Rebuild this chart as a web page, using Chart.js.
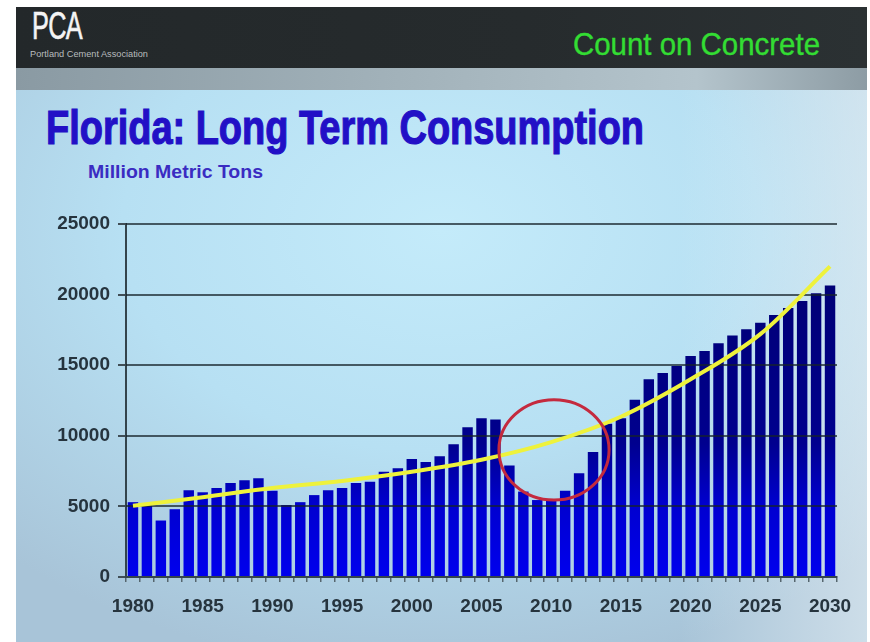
<!DOCTYPE html>
<html>
<head>
<meta charset="utf-8">
<script src="https://cdn.jsdelivr.net/npm/chart.js@4.4.1/dist/chart.umd.min.js"></script>
<style>
  html, body { margin:0; padding:0; background:#ffffff; width:870px; height:642px; overflow:hidden; }
  #slide { position:absolute; left:16px; top:7px; width:851px; height:635px;
    background:
      linear-gradient(to right, rgba(255,255,255,0) 78%, rgba(235,242,246,0.55) 100%),
      radial-gradient(ellipse 75% 70% at 50% 35%, #c4ebfa 0%, #b7e0f3 50%, #a8c4d8 100%);
  }
  #header { position:absolute; left:16px; top:7px; width:851px; height:61px;
    background: linear-gradient(to right, #23282a 0%, #262b2d 60%, #2b3133 100%); }
  #strip { position:absolute; left:16px; top:68px; width:851px; height:22px;
    background: linear-gradient(to right, #8a9aa3 0%, #a2b2ba 45%, #b4c4cc 80%, #8d9ca4 100%); }
  .txt { position:absolute; white-space:nowrap; line-height:1; transform-origin:0 0; }
  #pca { left:32px; top:7px; font-family:"Liberation Sans", Arial, sans-serif; font-size:38px; color:#f4f4f4; letter-spacing:-1px; -webkit-text-stroke:0.6px #f4f4f4; }
  #pcaSub { left:30px; top:50px; font-family:"Liberation Sans", Arial, sans-serif; font-size:9px; color:#b8bcbe; }
  #slogan { left:573px; top:28px; font-family:"Liberation Sans", Arial, sans-serif; font-size:32px; color:#33dd33; -webkit-text-stroke:0.4px #33dd33; }
  #title { left:46px; top:104px; font-family:"Liberation Sans", Arial, sans-serif; font-weight:bold; font-size:48px; color:#2210c6; -webkit-text-stroke:1.2px #2210c6; }
  #subtitle { left:88px; top:162px; font-family:"Liberation Sans", Arial, sans-serif; font-weight:bold; font-size:19px; color:#3a2cc2; }
  #c { position:absolute; left:0; top:0; }
</style>
</head>
<body>
<div id="slide"></div>
<div id="header"></div>
<div id="strip"></div>
<div id="pca" class="txt" data-w="50">PCA</div>
<div id="pcaSub" class="txt" data-w="118">Portland Cement Association</div>
<div id="slogan" class="txt" data-w="247">Count on Concrete</div>
<div id="title" class="txt" data-w="598">Florida: Long Term Consumption</div>
<div id="subtitle" class="txt" data-w="175">Million Metric Tons</div>
<canvas id="c" width="870" height="642"></canvas>
<script>
// ---- data ----
const years = ['1980','1981','1982','1983','1984','1985','1986','1987','1988','1989',
  '1990','1991','1992','1993','1994','1995','1996','1997','1998','1999',
  '2000','2001','2002','2003','2004','2005','2006','2007','2008','2009',
  '2010','2011','2012','2013','2014','2015','2016','2017','2018','2019',
  '2020','2021','2022','2023','2024','2025','2026','2027','2028','2029','2030'];

const consumption = [5300,5050,4000,4800,6150,6000,6300,6650,6850,7000,
  6100,5100,5300,5800,6150,6300,6650,6750,7450,7700,
  8350,8150,8550,9400,10600,11250,11150,7900,6050,5450,
  5450,6100,7350,8850,10850,11250,12550,14000,14450,14950,
  15650,16000,16550,17100,17550,18000,18550,19050,19550,20100,20650];

const trend = [5050,null,null,null,null,5650,null,null,null,null,
  6300,null,null,null,null,6800,null,null,null,null,
  7450,null,null,null,null,8300,null,null,null,null,
  9550,null,null,null,null,11350,null,null,null,null,
  14000,null,null,null,null,17200,null,null,null,null,22000];

const xTickLabels = ['1980','1985','1990','1995','2000','2005','2010','2015','2020','2025','2030'];
const yTicks = [0,5000,10000,15000,20000,25000];

// highlighted region (ellipse around the 2008-2013 dip)
const highlight = { category:'2010', categoryShift:0.2, value:9000, halfSpanCategories:3.95, halfSpanValue:3550 };

// ---- fit header texts to their widths ----
document.querySelectorAll('.txt').forEach(el => {
  const w = el.getBoundingClientRect().width;
  const target = parseFloat(el.dataset.w);
  el.style.transform = 'scaleX(' + (target / w) + ')';
});

const axisFont = { family:'"Liberation Sans", Arial, sans-serif', weight:'bold', size:19 };
let barGrad = null;

const overGrid = {
  id:'overGrid',
  beforeDatasetDraw(chart, args) {
    if (args.index !== 0) return;
    const { ctx, chartArea:a, scales:{ y } } = chart;
    ctx.save();
    ctx.strokeStyle = 'rgba(22,34,42,0.72)';
    ctx.lineWidth = 2;
    yTicks.forEach(v => {
      if (v === 0) return;
      const py = Math.round(y.getPixelForValue(v));
      ctx.beginPath(); ctx.moveTo(a.left, py); ctx.lineTo(a.right, py); ctx.stroke();
    });
    ctx.restore();
  },
  afterDatasetsDraw(chart) {
    const { ctx, scales:{ x, y } } = chart;
    const i = years.indexOf(highlight.category);
    const cw = x.getPixelForValue(1) - x.getPixelForValue(0);
    const cx = x.getPixelForValue(i) + highlight.categoryShift * cw;
    const cy = y.getPixelForValue(highlight.value);
    const rx = highlight.halfSpanCategories * cw;
    const ry = y.getPixelForValue(0) - y.getPixelForValue(highlight.halfSpanValue);
    ctx.save();
    ctx.strokeStyle = '#c42a3e';
    ctx.lineWidth = 3;
    ctx.beginPath(); ctx.ellipse(cx, cy, rx, ry, 0, 0, Math.PI * 2); ctx.stroke();
    ctx.restore();
  }
};

new Chart(document.getElementById('c'), {
  type:'bar',
  data:{
    labels: years,
    datasets:[
      { type:'line', data: trend, borderColor:'#eef23c', borderWidth:4, pointRadius:0,
        spanGaps:true, cubicInterpolationMode:'monotone', tension:0.4, order:0 },
      { type:'bar', data: consumption, categoryPercentage:1, barPercentage:0.75, order:1,
        backgroundColor(ctx) {
          const a = ctx.chart.chartArea;
          if (!a) return '#0000c0';
          if (!barGrad) {
            barGrad = ctx.chart.ctx.createLinearGradient(0, a.top, 0, a.bottom);
            barGrad.addColorStop(0, '#00006c');
            barGrad.addColorStop(0.62, '#00008e');
            barGrad.addColorStop(0.8, '#0000d0');
            barGrad.addColorStop(1, '#0000ee');
          }
          return barGrad;
        } }
    ]
  },
  options:{
    responsive:false, animation:false, devicePixelRatio:1,
    layout:{ padding:{ left:0, right:33, top:224, bottom:0 } },
    plugins:{ legend:{ display:false }, tooltip:{ enabled:false } },
    scales:{
      x:{
        offset:true,
        grid:{ offset:true, drawOnChartArea:false, drawTicks:true, tickLength:5, color:'#56666e', lineWidth:1.5 },
        border:{ display:true, color:'#34444c', width:2 },
        ticks:{ autoSkip:false, maxRotation:0, minRotation:0, padding:13, color:'#26343e', font:axisFont,
          callback:(v, i) => xTickLabels.includes(years[i]) ? years[i] : '' },
        afterFit(s) { s.height = 65; }
      },
      y:{
        min: yTicks[0], max: yTicks[yTicks.length - 1],
        grid:{ drawOnChartArea:false, drawTicks:true, tickLength:8, color:'#404e56', lineWidth:2 },
        border:{ display:true, color:'#34444c', width:2 },
        ticks:{ stepSize: yTicks[1] - yTicks[0], padding:8, color:'#26343e', font:axisFont,
          callback:v => String(v) },
        afterFit(s) { s.width = 126; }
      }
    }
  },
  plugins:[overGrid]
});
</script>
</body>
</html>
